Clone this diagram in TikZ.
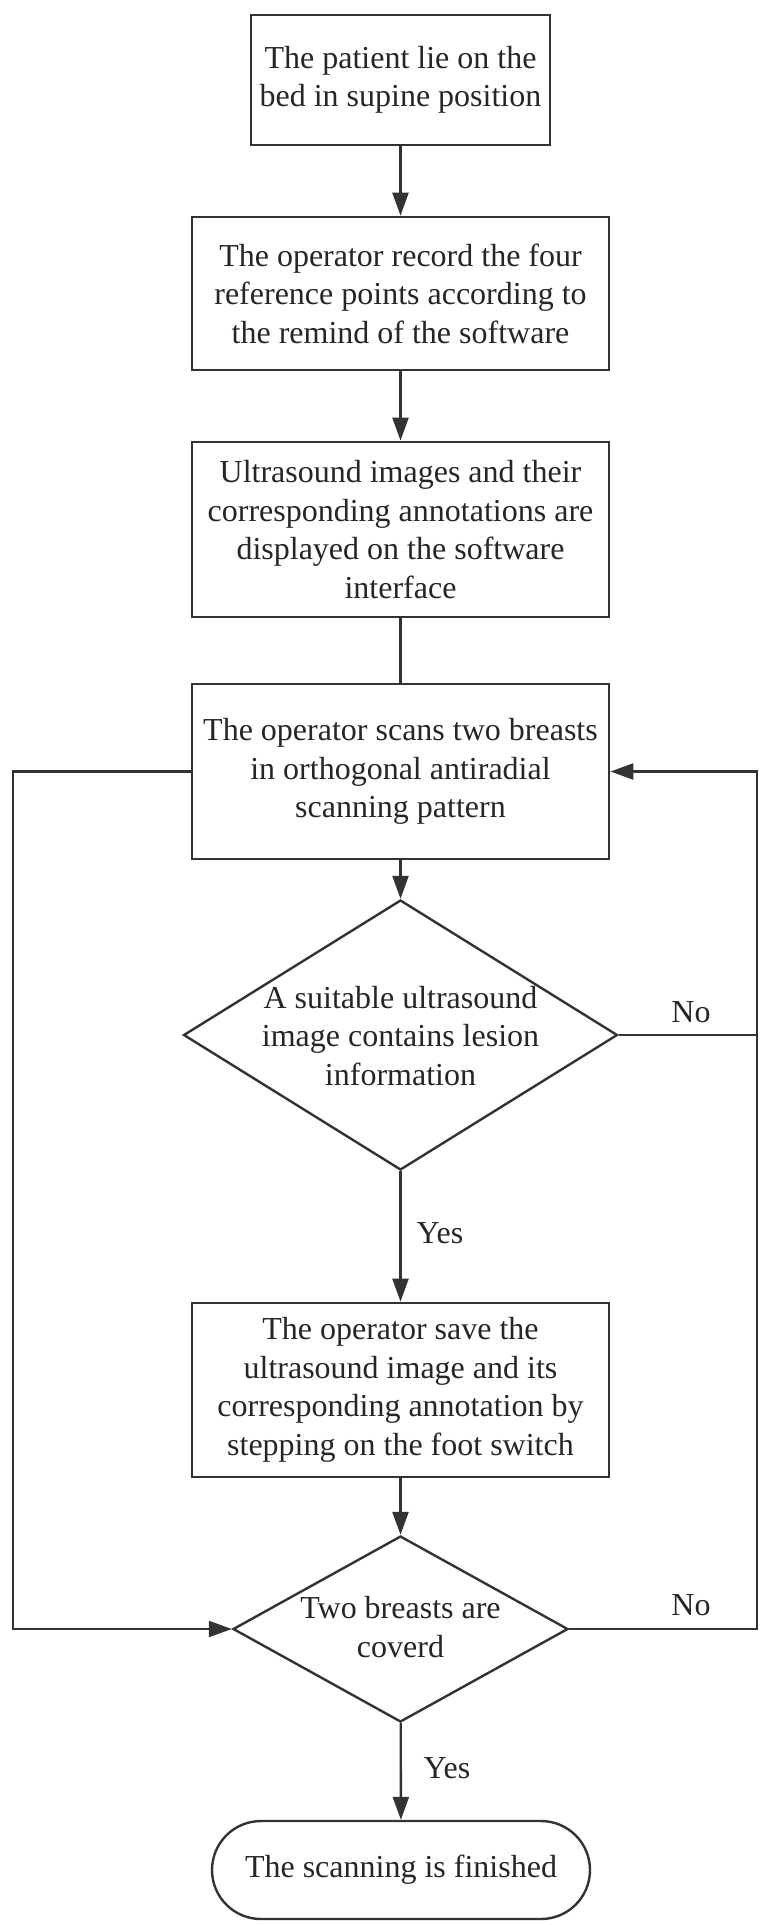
\documentclass[tikz,border=0pt]{standalone}
\usepackage{fontspec}
\setmainfont{Liberation Serif}
\usetikzlibrary{arrows.meta,shapes.geometric,calc}
\begin{document}
\begin{tikzpicture}[x=1pt,y=-1pt,
  every node/.style={font=\fontsize{32}{38.5}\selectfont, text=black!85},
  boxnode/.style={draw=black!80, line width=2.8pt, rectangle, inner sep=0pt, align=center},
  dianode/.style={draw=black!80, line width=2.4pt, diamond, inner sep=0pt},
  termnode/.style={draw=black!80, line width=2.4pt, rectangle, rounded corners=49pt, inner sep=0pt, align=center},
  conn/.style={draw=black!80, line width=2.4pt},
  arr/.style={conn, -{Triangle[length=23pt,width=16pt]}},
  lbl/.style={inner sep=0pt}
]
\useasboundingbox (0,0) rectangle (761,1925);
\fill[white] (0,0) rectangle (761,1925);

\node[boxnode, minimum width=299pt, minimum height=130pt] (b1) at (400.5,80) {The patient lie on the\\bed in supine position};
\node[boxnode, minimum width=417pt, minimum height=153pt] (b2) at (400.5,293.5) {The operator record the four\\reference points according to\\the remind of the software};
\node[boxnode, minimum width=417pt, minimum height=175pt] (b3) at (400.5,529.5) {Ultrasound images and their\\corresponding annotations are\\displayed on the software\\interface};
\node[boxnode, minimum width=417pt, minimum height=175pt] (b4) at (400.5,771.5) {The operator scans two breasts\\in orthogonal antiradial\\scanning pattern};
\node[dianode, minimum width=434pt, minimum height=270pt] (d1) at (400.5,1035) {};
\node[align=center, inner sep=0pt] (d1t) at (400.5,1036) {A suitable ultrasound\\image contains lesion\\information};
\node[boxnode, minimum width=417pt, minimum height=174pt] (b5) at (400.5,1390) {The operator save the\\ultrasound image and its\\corresponding annotation by\\stepping on the foot switch};
\node[dianode, minimum width=335pt, minimum height=186pt] (d2) at (400.5,1629) {};
\node[align=center, inner sep=0pt] (d2t) at (400.5,1627) {Two breasts are\\coverd};
\node[termnode, minimum width=378pt, minimum height=98pt] (t) at (401,1870) {The scanning is finished};

\coordinate (r1) at (757,1035);
\coordinate (r2) at (757,1629);
\coordinate (rt) at (757,771.5);
\coordinate (l1) at (13,771.5);
\coordinate (l2) at (13,1629);

\draw[arr] (b1) -- (b2);
\draw[arr] (b2) -- (b3);
\draw[conn] (b3) -- (b4);
\draw[arr] (b4) -- (d1);
\draw[arr] (d1) -- (b5);
\draw[arr] (b5) -- (d2);
\draw[arr] (d2) -- (t);
\draw[arr] (d1.east) -- (r1) -- (rt) -- (b4.east);
\draw[conn] (d2.east) -- (r2) -- (r1);
\draw[arr] (b4.west) -- (l1) -- (l2) -- (d2.west);

\node[lbl] (no1) at (691,1012) {No};
\node[lbl] (no2) at (691,1605) {No};
\node[lbl] (yes1) at (440,1233) {Yes};
\node[lbl] (yes2) at (447,1768) {Yes};
\end{tikzpicture}
\end{document}
